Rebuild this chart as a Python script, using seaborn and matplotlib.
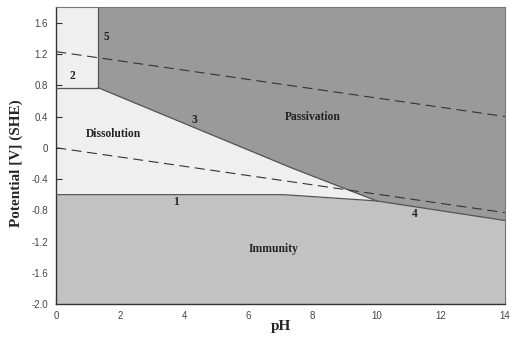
import matplotlib
matplotlib.use("Agg")
import matplotlib.pyplot as plt
import seaborn as sns
import pandas as pd
import numpy as np

# ---- data ----
ph_line1 = [0.0, 7.1, 10.0]
e_line1 = [-0.60, -0.60, -0.68]
ph_line4 = [10.0, 14.0]
e_line4 = [-0.68, -0.93]
ph_line3 = [1.3, 7.3, 10.0]
e_line3 = [0.77, -0.25, -0.68]
ph_line2 = [0.0, 1.3]
e_line2 = [0.77, 0.77]
ph_line5 = [1.3, 1.3]
e_line5 = [0.77, 1.8]
ph_water = [0.0, 14.0]
e_o2 = [1.23, 0.40]
e_h2 = [0.0, -0.83]

region_names = ["Dissolution", "Passivation", "Immunity"]
region_ph = [1.78, 8.0, 6.77]
region_e = [0.18, 0.39, -1.30]

line_names = ["1", "2", "3", "4", "5"]
line_label_ph = [3.74, 0.5, 4.3, 11.2, 1.55]
line_label_e = [-0.70, 0.92, 0.36, -0.85, 1.42]

xticks = [0, 2, 4, 6, 8, 10, 12, 14]
yticks = [-2.0, -1.6, -1.2, -0.8, -0.4, 0.0, 0.4, 0.8, 1.2, 1.6]
ytick_labels = ["-2.0", "-1.6", "-1.2", "-0.8", "-0.4", "0", "0.4", "0.8", "1.2", "1.6"]
xlim = (0, 14)
ylim = (-2.0, 1.8)

sns.set_style("ticks")
plt.rcParams["font.family"] = ["Liberation Serif", "DejaVu Sans"]

fig = plt.figure(figsize=(5.11, 3.39), dpi=100)
ax = fig.add_axes([0.110, 0.103, 0.878, 0.876])

c_diss = "#efefef"
c_pass = "#9a9a9a"
c_imm = "#c2c2c2"
c_line = "#555555"

# background dissolution
ax.fill_between(xlim, [ylim[0]] * 2, [ylim[1]] * 2, color=c_diss, lw=0, zorder=0)

# immunity: below line1 + line4
imm_ph = ph_line1 + ph_line4[1:]
imm_e = e_line1 + e_line4[1:]
ax.fill_between(imm_ph, [ylim[0]] * len(imm_ph), imm_e, color=c_imm, lw=0, zorder=1)

# passivation: above line3 + line4, right of line5
pas_ph = ph_line3 + ph_line4[1:]
pas_e = e_line3 + e_line4[1:]
ax.fill_between(pas_ph, pas_e, [ylim[1]] * len(pas_ph), color=c_pass, lw=0, zorder=1)

# boundary lines
for xs, ys in [(ph_line1, e_line1), (ph_line4, e_line4), (ph_line3, e_line3),
               (ph_line2, e_line2), (ph_line5, e_line5)]:
    sns.lineplot(x=xs, y=ys, ax=ax, color=c_line, lw=0.9, sort=False,
                 estimator=None, zorder=3)

# water stability lines (dashed)
for ys in [e_o2, e_h2]:
    sns.lineplot(x=ph_water, y=ys, ax=ax, color="#333333", lw=0.8,
                 dashes=False, zorder=4).lines[-1].set_dashes([9, 5])

for name, x, y in zip(region_names, region_ph, region_e):
    ax.text(x, y, name, fontsize=8.3, fontweight="bold", ha="center", va="center",
            color="#222222", zorder=5)
for name, x, y in zip(line_names, line_label_ph, line_label_e):
    ax.text(x, y, name, fontsize=8.3, fontweight="bold", ha="center", va="center",
            color="#222222", zorder=5)

ax.set_xlim(*xlim)
ax.set_ylim(*ylim)
ax.set_xticks(xticks)
ax.set_xticks(range(1, 14, 2), minor=True)
ax.set_yticks(yticks)
ax.set_yticklabels(ytick_labels)
ax.tick_params(axis="both", which="major", direction="in", length=4, width=0.8,
               labelsize=7, colors="#333333", labelcolor="#444444")
ax.tick_params(axis="x", which="minor", direction="in", length=2.5, width=0.8, colors="#333333")
for lab in ax.get_xticklabels() + ax.get_yticklabels():
    lab.set_family(["Liberation Sans", "DejaVu Sans"])
ax.tick_params(axis="x", pad=5)
ax.tick_params(axis="y", pad=6)

ax.set_xlabel("pH", fontsize=11, fontweight="bold")
ax.set_ylabel("Potential [V] (SHE)", fontsize=11, fontweight="bold")
ax.xaxis.set_label_coords(0.5, -0.055)
ax.yaxis.set_label_coords(-0.073, 0.475)

for s in ["left", "bottom"]:
    ax.spines[s].set_color("#333333")
    ax.spines[s].set_linewidth(1.0)
for s in ["top", "right"]:
    ax.spines[s].set_visible(True)
    ax.spines[s].set_color("#777777")
    ax.spines[s].set_linewidth(0.8)

fig.savefig("out.png", dpi=100)
